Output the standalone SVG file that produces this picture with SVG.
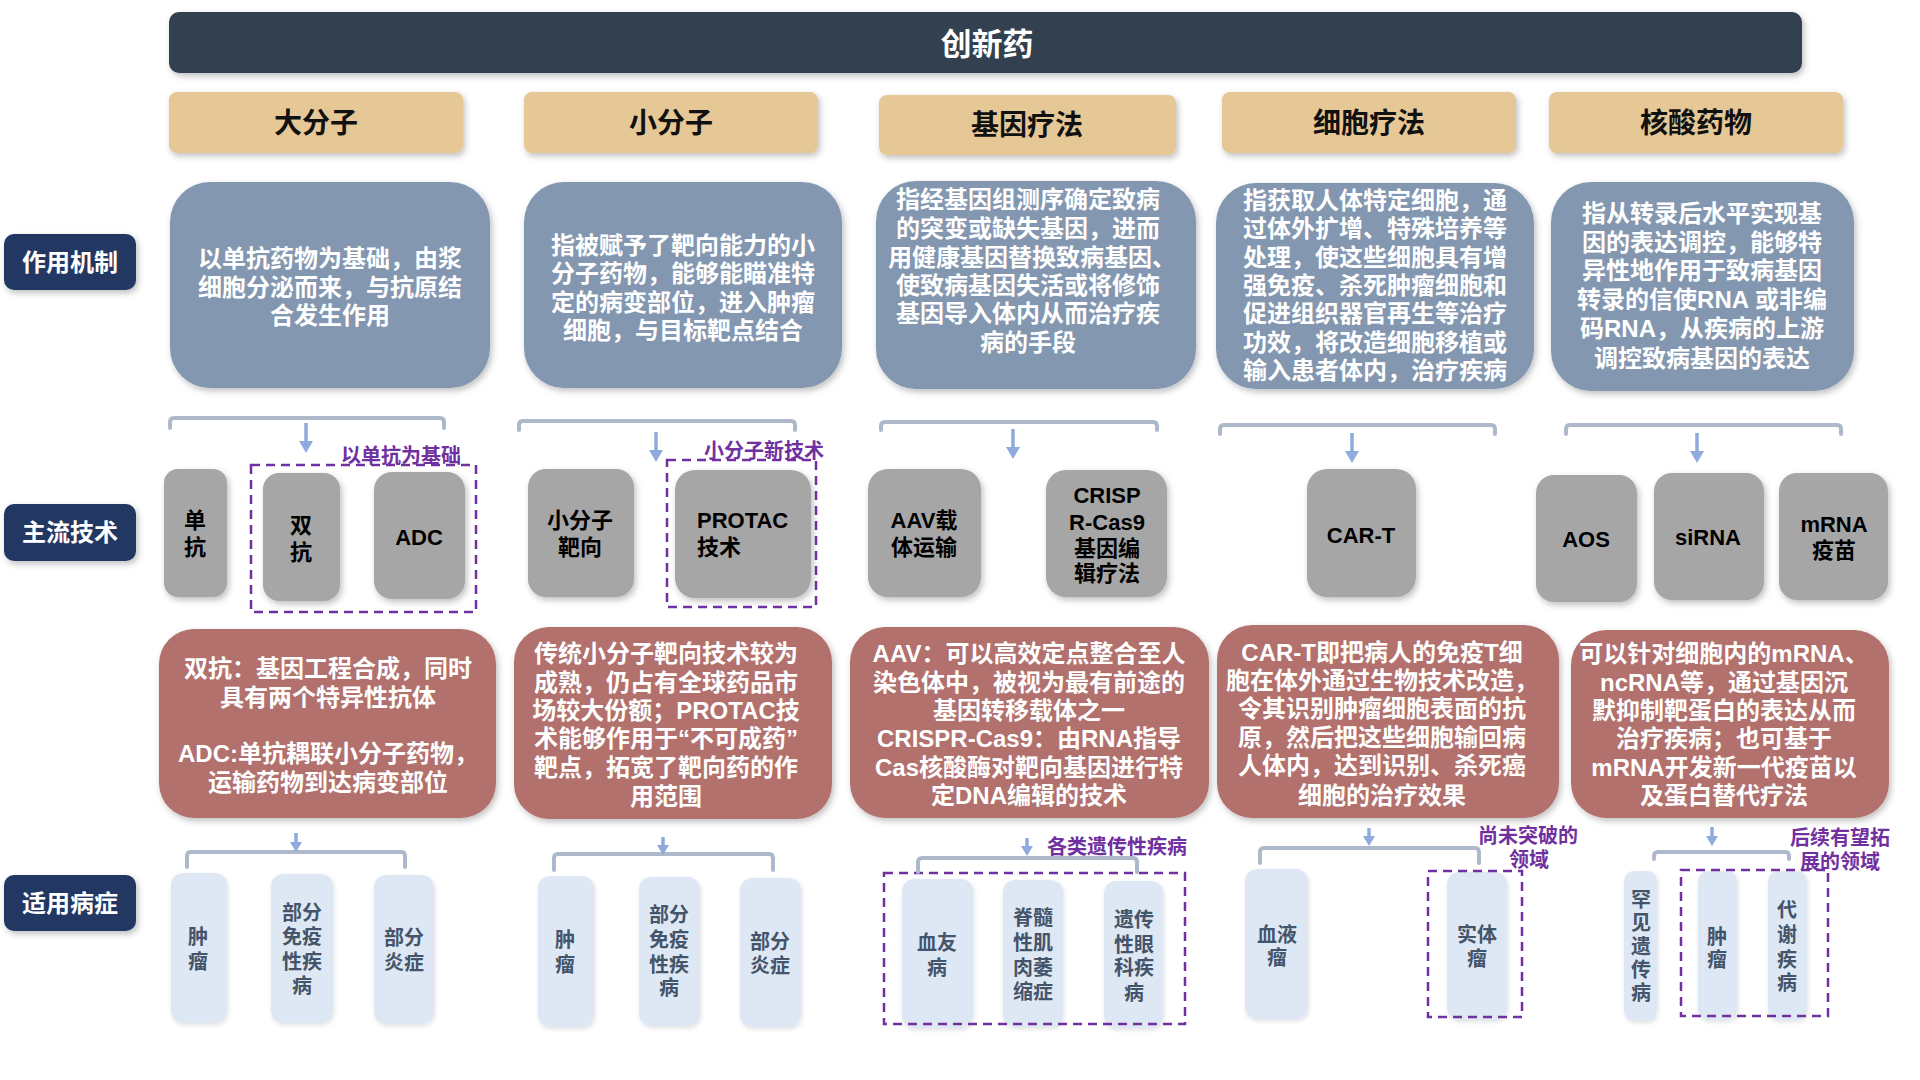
<svg xmlns="http://www.w3.org/2000/svg" width="1920" height="1080" viewBox="0 0 1920 1080">
<defs>
<filter id="sh" x="-15%" y="-15%" width="135%" height="140%"><feDropShadow dx="2" dy="3" stdDeviation="3" flood-color="#000" flood-opacity="0.25"/></filter>
<filter id="sh2" x="-15%" y="-15%" width="135%" height="140%"><feDropShadow dx="1" dy="2" stdDeviation="2" flood-color="#000" flood-opacity="0.12"/></filter>
<marker id="ah" markerWidth="14" markerHeight="12" refX="7" refY="1" markerUnits="userSpaceOnUse" viewBox="0 0 14 12"><path d="M0,0 L14,0 L7,12 Z" fill="#8FAADC"/></marker>
<marker id="ah2" markerWidth="12" markerHeight="10" refX="6" refY="1" markerUnits="userSpaceOnUse" viewBox="0 0 12 10"><path d="M0,0 L12,0 L6,10 Z" fill="#8FAADC"/></marker>
<style>
text{font-family:"Liberation Sans","Noto Sans CJK SC",sans-serif;font-weight:bold;dominant-baseline:central;text-anchor:middle}
.title{fill:#333F50}
.titletx{fill:#fff;font-size:31px}
.hdr{fill:#E6C796}
.hdrtx{fill:#111;font-size:28px}
.side{fill:#203864}
.sidetx{fill:#fff;font-size:24px}
.mech{fill:#8497B0}
.mechtx{fill:#fff;font-size:24px}
.tech{fill:#A6A6A6}
.techtx{fill:#000;font-size:22px}
.desc{fill:#B2716D}
.desctx{fill:#fff;font-size:24px}
.dis{fill:#DEE8F4}
.distx{fill:#44546A;font-size:20px}
.dash{fill:none;stroke:#7030A0;stroke-width:2.5;stroke-dasharray:9 6}
.note{fill:#7030A0;font-size:20px}
.brk{fill:none;stroke:#ADB9CA;stroke-width:4;stroke-linecap:round;stroke-linejoin:round}
.arr{stroke:#8FAADC;stroke-width:3.5;fill:none}
</style>
</defs>
<rect width="1920" height="1080" fill="#fff"/>

<g id="title"><rect class="title" x="169" y="12" width="1633" height="61" rx="10" filter="url(#sh)"/><text class="titletx" x="987" y="44">创新药</text></g>

<g id="side-labels">
<g id="lbl-mech"><rect class="side" x="4" y="234" width="132" height="56" rx="10" filter="url(#sh)"/><text class="sidetx" x="70" y="262">作用机制</text></g>
<g id="lbl-tech"><rect class="side" x="4" y="504" width="132" height="57" rx="10" filter="url(#sh)"/><text class="sidetx" x="70" y="532">主流技术</text></g>
<g id="lbl-dis"><rect class="side" x="4" y="875" width="132" height="56" rx="10" filter="url(#sh)"/><text class="sidetx" x="70" y="903">适用病症</text></g>
</g>

<g id="headers">
<g id="h1"><rect class="hdr" x="169" y="92" width="294" height="61" rx="8" filter="url(#sh)"/><text class="hdrtx" x="316" y="123">大分子</text></g>
<g id="h2"><rect class="hdr" x="524" y="92" width="294" height="61" rx="8" filter="url(#sh)"/><text class="hdrtx" x="671" y="123">小分子</text></g>
<g id="h3"><rect class="hdr" x="879" y="95" width="297" height="60" rx="8" filter="url(#sh)"/><text class="hdrtx" x="1027" y="125">基因疗法</text></g>
<g id="h4"><rect class="hdr" x="1222" y="92" width="294" height="61" rx="8" filter="url(#sh)"/><text class="hdrtx" x="1369" y="123">细胞疗法</text></g>
<g id="h5"><rect class="hdr" x="1549" y="92" width="294" height="61" rx="8" filter="url(#sh)"/><text class="hdrtx" x="1696" y="123">核酸药物</text></g>
</g>

<g id="mechanisms">
<g id="m1"><rect class="mech" x="170" y="182" width="320" height="206" rx="40" filter="url(#sh)"/>
<text class="mechtx" x="330" y="258">以单抗药物为基础，由浆</text>
<text class="mechtx" x="330" y="287">细胞分泌而来，与抗原结</text>
<text class="mechtx" x="330" y="315">合发生作用</text></g>
<g id="m2"><rect class="mech" x="524" y="182" width="318" height="206" rx="40" filter="url(#sh)"/>
<text class="mechtx" x="683" y="245">指被赋予了靶向能力的小</text>
<text class="mechtx" x="683" y="273">分子药物，能够能瞄准特</text>
<text class="mechtx" x="683" y="302">定的病变部位，进入肿瘤</text>
<text class="mechtx" x="683" y="330">细胞，与目标靶点结合</text></g>
<g id="m3"><rect class="mech" x="876" y="181" width="320" height="208" rx="40" filter="url(#sh)"/>
<text class="mechtx" x="1028" y="199">指经基因组测序确定致病</text>
<text class="mechtx" x="1028" y="228">的突变或缺失基因，进而</text>
<text class="mechtx" x="1032" y="257">用健康基因替换致病基因、</text>
<text class="mechtx" x="1028" y="285">使致病基因失活或将修饰</text>
<text class="mechtx" x="1028" y="313">基因导入体内从而治疗疾</text>
<text class="mechtx" x="1028" y="342">病的手段</text></g>
<g id="m4"><rect class="mech" x="1216" y="183" width="318" height="206" rx="40" filter="url(#sh)"/>
<text class="mechtx" x="1375" y="200">指获取人体特定细胞，通</text>
<text class="mechtx" x="1375" y="228">过体外扩增、特殊培养等</text>
<text class="mechtx" x="1375" y="257">处理，使这些细胞具有增</text>
<text class="mechtx" x="1375" y="285">强免疫、杀死肿瘤细胞和</text>
<text class="mechtx" x="1375" y="313">促进组织器官再生等治疗</text>
<text class="mechtx" x="1375" y="342">功效，将改造细胞移植或</text>
<text class="mechtx" x="1375" y="370">输入患者体内，治疗疾病</text></g>
<g id="m5"><rect class="mech" x="1551" y="182" width="303" height="209" rx="40" filter="url(#sh)"/>
<text class="mechtx" x="1702" y="213">指从转录后水平实现基</text>
<text class="mechtx" x="1702" y="242">因的表达调控，能够特</text>
<text class="mechtx" x="1702" y="270">异性地作用于致病基因</text>
<text class="mechtx" x="1702" y="299">转录的信使RNA 或非编</text>
<text class="mechtx" x="1702" y="328">码RNA，从疾病的上游</text>
<text class="mechtx" x="1702" y="358">调控致病基因的表达</text></g>
</g>

<g id="technologies">
<g id="t-mab"><rect class="tech" x="164" y="469" width="63" height="128" rx="14" filter="url(#sh)"/><text class="techtx" x="195" y="520">单</text><text class="techtx" x="195" y="547">抗</text></g>
<g id="t-bsab"><rect class="tech" x="263" y="473" width="77" height="128" rx="16" filter="url(#sh)"/><text class="techtx" x="301" y="525">双</text><text class="techtx" x="301" y="552">抗</text></g>
<g id="t-adc"><rect class="tech" x="374" y="472" width="91" height="127" rx="18" filter="url(#sh)"/><text class="techtx" x="419" y="537">ADC</text></g>
<g id="t-sm"><rect class="tech" x="528" y="469" width="106" height="128" rx="18" filter="url(#sh)"/><text class="techtx" x="580" y="520">小分子</text><text class="techtx" x="580" y="547">靶向</text></g>
<g id="t-protac"><rect class="tech" x="675" y="470" width="136" height="128" rx="20" filter="url(#sh)"/><text class="techtx" x="697" y="520" style="text-anchor:start">PROTAC</text><text class="techtx" x="697" y="547" style="text-anchor:start">技术</text></g>
<g id="t-aav"><rect class="tech" x="868" y="469" width="113" height="128" rx="20" filter="url(#sh)"/><text class="techtx" x="924" y="520">AAV载</text><text class="techtx" x="924" y="547">体运输</text></g>
<g id="t-crispr"><rect class="tech" x="1046" y="470" width="121" height="127" rx="20" filter="url(#sh)"/><text class="techtx" x="1107" y="495">CRISP</text><text class="techtx" x="1107" y="522">R-Cas9</text><text class="techtx" x="1107" y="548">基因编</text><text class="techtx" x="1107" y="573">辑疗法</text></g>
<g id="t-cart"><rect class="tech" x="1307" y="469" width="109" height="128" rx="20" filter="url(#sh)"/><text class="techtx" x="1361" y="535">CAR-T</text></g>
<g id="t-aos"><rect class="tech" x="1536" y="475" width="101" height="127" rx="18" filter="url(#sh)"/><text class="techtx" x="1586" y="539">AOS</text></g>
<g id="t-sirna"><rect class="tech" x="1654" y="473" width="110" height="127" rx="18" filter="url(#sh)"/><text class="techtx" x="1708" y="537">siRNA</text></g>
<g id="t-mrna"><rect class="tech" x="1779" y="473" width="109" height="127" rx="18" filter="url(#sh)"/><text class="techtx" x="1834" y="524">mRNA</text><text class="techtx" x="1834" y="550">疫苗</text></g>
</g>

<g id="tech-groups">
<rect class="dash" x="251" y="465" width="225" height="147"/>
<text class="note" x="401" y="456">以单抗为基础</text>
<rect class="dash" x="667" y="460" width="149" height="147"/>
<text class="note" x="764" y="451">小分子新技术</text>
</g>

<g id="descriptions">
<g id="d1"><rect class="desc" x="159" y="629" width="337" height="189" rx="35" filter="url(#sh)"/>
<text class="desctx" x="328" y="668">双抗：基因工程合成，同时</text>
<text class="desctx" x="328" y="697">具有两个特异性抗体</text>
<text class="desctx" x="328" y="753">ADC:单抗耦联小分子药物，</text>
<text class="desctx" x="328" y="782">运输药物到达病变部位</text></g>
<g id="d2"><rect class="desc" x="514" y="627" width="318" height="192" rx="35" filter="url(#sh)"/>
<text class="desctx" x="666" y="653">传统小分子靶向技术较为</text>
<text class="desctx" x="666" y="682">成熟，仍占有全球药品市</text>
<text class="desctx" x="666" y="710">场较大份额；PROTAC技</text>
<text class="desctx" x="666" y="738">术能够作用于“不可成药”</text>
<text class="desctx" x="666" y="767">靶点，拓宽了靶向药的作</text>
<text class="desctx" x="666" y="796">用范围</text></g>
<g id="d3"><rect class="desc" x="850" y="627" width="359" height="191" rx="35" filter="url(#sh)"/>
<text class="desctx" x="1029" y="653">AAV：可以高效定点整合至人</text>
<text class="desctx" x="1029" y="682">染色体中，被视为最有前途的</text>
<text class="desctx" x="1029" y="710">基因转移载体之一</text>
<text class="desctx" x="1029" y="738">CRISPR-Cas9：由RNA指导</text>
<text class="desctx" x="1029" y="767">Cas核酸酶对靶向基因进行特</text>
<text class="desctx" x="1029" y="795">定DNA编辑的技术</text></g>
<g id="d4"><rect class="desc" x="1217" y="625" width="342" height="193" rx="35" filter="url(#sh)"/>
<text class="desctx" x="1382" y="652">CAR-T即把病人的免疫T细</text>
<text class="desctx" x="1382" y="680">胞在体外通过生物技术改造，</text>
<text class="desctx" x="1382" y="708">令其识别肿瘤细胞表面的抗</text>
<text class="desctx" x="1382" y="737">原，然后把这些细胞输回病</text>
<text class="desctx" x="1382" y="765">人体内，达到识别、杀死癌</text>
<text class="desctx" x="1382" y="795">细胞的治疗效果</text></g>
<g id="d5"><rect class="desc" x="1571" y="630" width="318" height="188" rx="35" filter="url(#sh)"/>
<text class="desctx" x="1724" y="653">可以针对细胞内的mRNA、</text>
<text class="desctx" x="1724" y="682">ncRNA等，通过基因沉</text>
<text class="desctx" x="1724" y="710">默抑制靶蛋白的表达从而</text>
<text class="desctx" x="1724" y="738">治疗疾病；也可基于</text>
<text class="desctx" x="1724" y="767">mRNA开发新一代疫苗以</text>
<text class="desctx" x="1724" y="795">及蛋白替代疗法</text></g>
</g>

<g id="diseases">
<g id="s1a"><rect class="dis" x="171" y="873" width="56" height="150" rx="12" filter="url(#sh2)"/><text class="distx" x="198" y="937">肿</text><text class="distx" x="198" y="962">瘤</text></g>
<g id="s1b"><rect class="dis" x="271" y="874" width="62" height="149" rx="12" filter="url(#sh2)"/><text class="distx" x="302" y="913">部分</text><text class="distx" x="302" y="937">免疫</text><text class="distx" x="302" y="962">性疾</text><text class="distx" x="302" y="986">病</text></g>
<g id="s1c"><rect class="dis" x="374" y="875" width="60" height="149" rx="12" filter="url(#sh2)"/><text class="distx" x="404" y="938">部分</text><text class="distx" x="404" y="963">炎症</text></g>
<g id="s2a"><rect class="dis" x="538" y="876" width="56" height="151" rx="12" filter="url(#sh2)"/><text class="distx" x="565" y="940">肿</text><text class="distx" x="565" y="965">瘤</text></g>
<g id="s2b"><rect class="dis" x="639" y="877" width="61" height="149" rx="12" filter="url(#sh2)"/><text class="distx" x="669" y="915">部分</text><text class="distx" x="669" y="940">免疫</text><text class="distx" x="669" y="965">性疾</text><text class="distx" x="669" y="988">病</text></g>
<g id="s2c"><rect class="dis" x="740" y="878" width="61" height="149" rx="12" filter="url(#sh2)"/><text class="distx" x="770" y="942">部分</text><text class="distx" x="770" y="966">炎症</text></g>
<g id="s3a"><rect class="dis" x="902" y="879" width="71" height="149" rx="12" filter="url(#sh2)"/><text class="distx" x="937" y="943">血友</text><text class="distx" x="937" y="968">病</text></g>
<g id="s3b"><rect class="dis" x="1003" y="880" width="60" height="147" rx="12" filter="url(#sh2)"/><text class="distx" x="1033" y="918">脊髓</text><text class="distx" x="1033" y="943">性肌</text><text class="distx" x="1033" y="968">肉萎</text><text class="distx" x="1033" y="992">缩症</text></g>
<g id="s3c"><rect class="dis" x="1104" y="881" width="59" height="147" rx="12" filter="url(#sh2)"/><text class="distx" x="1134" y="920">遗传</text><text class="distx" x="1134" y="945">性眼</text><text class="distx" x="1134" y="968">科疾</text><text class="distx" x="1134" y="993">病</text></g>
<g id="s4a"><rect class="dis" x="1245" y="869" width="63" height="150" rx="12" filter="url(#sh2)"/><text class="distx" x="1277" y="935">血液</text><text class="distx" x="1277" y="958">瘤</text></g>
<g id="s4b"><rect class="dis" x="1447" y="872" width="60" height="148" rx="12" filter="url(#sh2)"/><text class="distx" x="1477" y="935">实体</text><text class="distx" x="1477" y="959">瘤</text></g>
<g id="s5a"><rect class="dis" x="1624" y="871" width="33" height="150" rx="10" filter="url(#sh2)"/><text class="distx" x="1641" y="900">罕</text><text class="distx" x="1641" y="923">见</text><text class="distx" x="1641" y="947">遗</text><text class="distx" x="1641" y="970">传</text><text class="distx" x="1641" y="993">病</text></g>
<g id="s5b"><rect class="dis" x="1698" y="871" width="39" height="149" rx="10" filter="url(#sh2)"/><text class="distx" x="1717" y="937">肿</text><text class="distx" x="1717" y="960">瘤</text></g>
<g id="s5c"><rect class="dis" x="1768" y="871" width="39" height="149" rx="10" filter="url(#sh2)"/><text class="distx" x="1787" y="910">代</text><text class="distx" x="1787" y="935">谢</text><text class="distx" x="1787" y="960">疾</text><text class="distx" x="1787" y="983">病</text></g>
</g>

<g id="disease-groups">
<rect class="dash" x="884" y="873" width="301" height="151"/>
<text class="note" x="1117" y="847">各类遗传性疾病</text>
<rect class="dash" x="1428" y="871" width="94" height="146"/>
<text class="note" x="1528" y="836">尚未突破的</text>
<text class="note" x="1529" y="860">领域</text>
<rect class="dash" x="1681" y="870" width="147" height="146"/>
<text class="note" x="1840" y="838">后续有望拓</text>
<text class="note" x="1840" y="862">展的领域</text>
</g>

<g id="connectors">
<path class="brk" d="M170,428 L170,422 Q170,418 174,418 L440,418 Q444,418 444,422 L444,428"/>
<path class="brk" d="M519,430 L519,425 Q519,421 523,421 L791,421 Q795,421 795,425 L795,430"/>
<path class="brk" d="M881,430 L881,426 Q881,422 885,422 L1153,422 Q1157,422 1157,426 L1157,430"/>
<path class="brk" d="M1220,434 L1220,429 Q1220,425 1224,425 L1491,425 Q1495,425 1495,429 L1495,434"/>
<path class="brk" d="M1566,434 L1566,429 Q1566,425 1570,425 L1837,425 Q1841,425 1841,429 L1841,434"/>
<line class="arr" x1="306" y1="423" x2="306" y2="442" marker-end="url(#ah)"/>
<line class="arr" x1="656" y1="432" x2="656" y2="451" marker-end="url(#ah)"/>
<line class="arr" x1="1013" y1="429" x2="1013" y2="448" marker-end="url(#ah)"/>
<line class="arr" x1="1352" y1="433" x2="1352" y2="452" marker-end="url(#ah)"/>
<line class="arr" x1="1697" y1="433" x2="1697" y2="452" marker-end="url(#ah)"/>

<path class="brk" d="M187,867 L187,856 Q187,852 191,852 L401,852 Q405,852 405,856 L405,867"/>
<path class="brk" d="M554,870 L554,858 Q554,854 558,854 L769,854 Q773,854 773,858 L773,870"/>
<path class="brk" d="M918,872 L918,862 Q918,858 922,858 L1133,858 Q1137,858 1137,862 L1137,872"/>
<path class="brk" d="M1260,863 L1260,852 Q1260,848 1264,848 L1475,848 Q1479,848 1479,852 L1479,863"/>
<path class="brk" d="M1654,859 L1654,856 Q1654,852 1658,852 L1785,852 Q1789,852 1789,856 L1789,859"/>
<line class="arr" x1="296" y1="833" x2="296" y2="843" marker-end="url(#ah2)"/>
<line class="arr" x1="663" y1="837" x2="663" y2="846" marker-end="url(#ah2)"/>
<line class="arr" x1="1027" y1="838" x2="1027" y2="847" marker-end="url(#ah2)"/>
<line class="arr" x1="1369" y1="828" x2="1369" y2="837" marker-end="url(#ah2)"/>
<line class="arr" x1="1712" y1="827" x2="1712" y2="837" marker-end="url(#ah2)"/>
</g>
</svg>
